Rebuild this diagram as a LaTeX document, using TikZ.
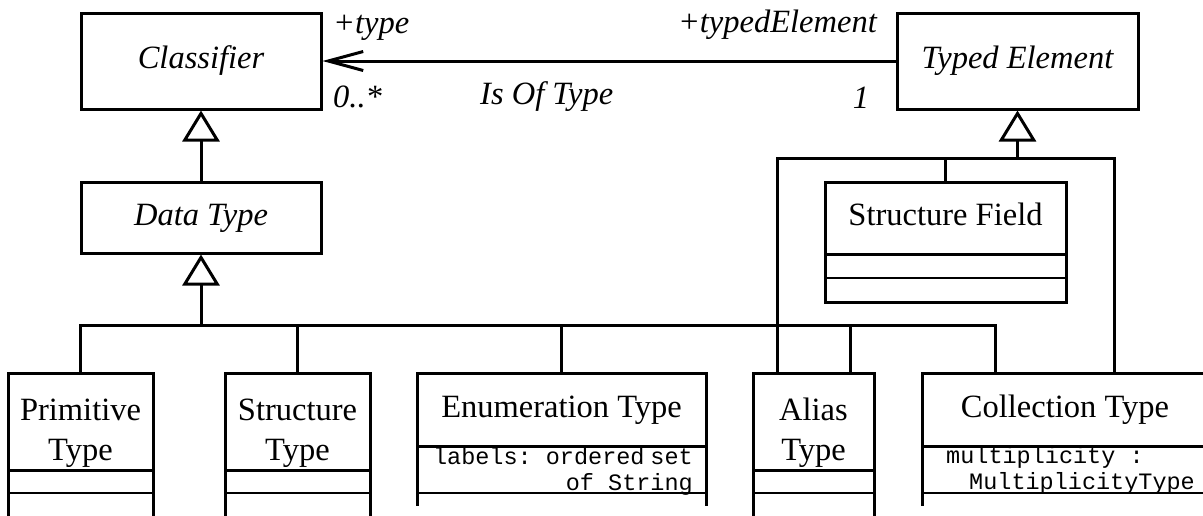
\documentclass[tikz,border=0pt]{standalone}
\usepackage{fontspec}
\setmainfont{Liberation Serif}
\setmonofont{Liberation Mono}
\usetikzlibrary{arrows.meta}

\begin{document}
\begin{tikzpicture}[x=1pt,y=-1pt]
  \tikzset{classbox/.style = {shape=rectangle,draw,line width=3pt,inner sep=0pt,outer sep=0pt,align=center,text height=22pt,text depth=7pt,font=\fontsize{32.5}{40}\selectfont}}
  \tikzset{abstract/.style = {classbox,font=\fontsize{32.5}{40}\selectfont\itshape}}
  \tikzset{twoline/.style = {text height=77pt,text depth=0pt}}
  \tikzset{attr/.style = {inner sep=0pt,font=\fontsize{23.5}{26}\selectfont\ttfamily}}
  \tikzset{role/.style = {inner sep=0pt,font=\fontsize{32.5}{36}\selectfont\itshape}}
  \tikzset{line/.style = {line width=3pt}}
  \tikzset{thin line/.style = {line width=2.2pt}}
  \tikzset{gen/.style = {line width=3pt,shorten >=1.5pt,-{Triangle[open,length=31pt,width=37pt]}}}
  \tikzset{assoc/.style = {line width=3pt,shorten >=1.5pt,-{Straight Barb[length=35pt,width=19pt]}}}
  \path[use as bounding box,clip] (0,0) rectangle (1203,515);

	\node[abstract][minimum width=240pt,minimum height=96pt] (classifier) at (201,61) {Classifier};
	\node[abstract][minimum width=240pt,minimum height=71pt] (datatype) at (201,217.5) {Data Type};
	\node[abstract][minimum width=241pt,minimum height=96pt] (typedel) at (1017.5,61) {Typed Element};
	\node[classbox][minimum width=241pt,minimum height=72pt] (field) at (945.5,218) {Structure Field};

	\node[classbox,twoline][minimum width=145pt,minimum height=97pt] (prim) at (80.5,421.5) {Primitive\\Type};
	\node[classbox,twoline][minimum width=145pt,minimum height=97pt] (sttype) at (297.5,421.5) {Structure\\Type};
	\node[classbox][minimum width=289pt,minimum height=73pt] (enum) at (561.5,409.5) {Enumeration Type};
	\node[classbox,twoline][minimum width=121pt,minimum height=97pt] (alias) at (813.5,421.5) {Alias\\Type};
	\node[classbox][minimum width=286pt,minimum height=73pt] (coll) at (1065,409.5) {Collection Type};

	\node[attr,anchor=east,align=right] (enumattr) at (693,471) {labels: ordered\hspace{0.25em}set\\of String};
	\node[attr,anchor=west,align=left] (collattr) at (946,470) {multiplicity :\\\hspace*{23pt}MultiplicityType};

	\node[role,anchor=west] (typerole) at (333,28) {+type};
	\node[role,anchor=west] (typemult) at (333,97) {0..*};
	\node[role,anchor=west] (assocname) at (480,97) {Is Of Type};
	\node[role,anchor=east] (elemrole) at (877,25) {+typedElement};
	\node[role] (elemmult) at (861,98) {1};

	\coordinate (dtbus) at ([yshift=-72pt]datatype.south);
	\coordinate (tebus) at ([yshift=-49pt]typedel.south);
	\coordinate (alias-te) at ([xshift=24.5pt]alias.north west);
	\coordinate (alias-dt) at ([xshift=97pt]alias.north west);
	\coordinate (coll-dt) at ([xshift=73pt]coll.north west);
	\coordinate (coll-te) at ([xshift=192pt]coll.north west);

    \draw[assoc] (typedel) -- (classifier);
    \draw[gen] (datatype) -- (classifier);
    \draw[gen] (dtbus) -- (datatype);
    \draw[gen] (tebus) -- (typedel);

    \draw[line] (prim.north) |- (dtbus) -| (coll-dt);
    \foreach \to in {sttype.north,enum.north,alias-dt}
    \draw[line] (\to |- dtbus) -- (\to);
    \draw[line] (alias-te) |- (tebus) -| (coll-te);
    \draw[line] (field.north |- tebus) -- (field.north);

    \draw[line] (field.south west) -- ++(0,48) -| (field.south east);
    \draw[thin line] ([yshift=-24pt]field.south west) -- ([yshift=-24pt]field.south east);

    \foreach \b/\d in {prim/23,sttype/23,alias/23,enum/47,coll/47}
    {
    \draw[thin line] ([yshift=-\d pt]\b.south west) -- ([yshift=-\d pt]\b.south east);
    \draw[line] (\b.south west) -- ++(0,60) (\b.south east) -- ++(0,60);
    }
\end{tikzpicture}
\end{document}
